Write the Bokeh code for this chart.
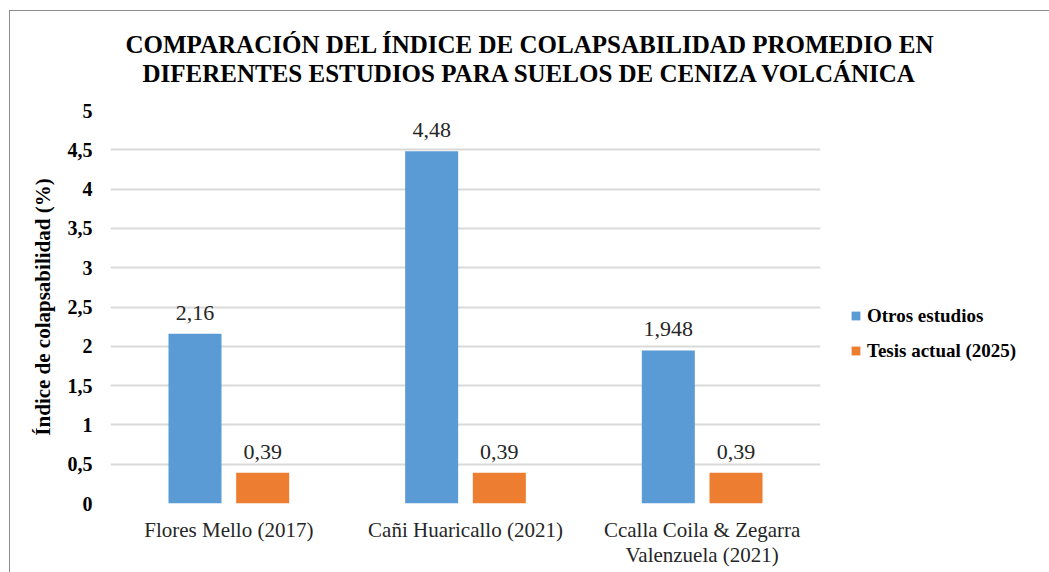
from bokeh.plotting import figure
from bokeh.models import (ColumnDataSource, FactorRange, Range1d, FixedTicker,
                          CustomJSTickFormatter, Title, Legend, LegendItem, InlineStyleSheet)
from bokeh.transform import dodge
from bokeh.core.properties import value
from bokeh.embed import file_html
from bokeh.resources import INLINE

# ---- data ----
categories = ["Flores Mello (2017)", "Cañi Huaricallo (2021)",
              "Ccalla Coila & Zegarra\nValenzuela (2021)"]
otros_estudios = [2.16, 4.48, 1.948]
tesis_actual = [0.39, 0.39, 0.39]
series_names = ["Otros estudios", "Tesis actual (2025)"]
y_ticks = [0, 0.5, 1, 1.5, 2, 2.5, 3, 3.5, 4, 4.5, 5]
title_lines = ["COMPARACIÓN DEL ÍNDICE DE COLAPSABILIDAD PROMEDIO EN",
               "DIFERENTES ESTUDIOS PARA SUELOS DE CENIZA VOLCÁNICA"]
y_label = "Índice de colapsabilidad (%)"


def fmt(v):
    return str(v).replace(".", ",")


source = ColumnDataSource(dict(
    cat=categories,
    otros=otros_estudios,
    tesis=tesis_actual,
    otros_lbl=[fmt(v) for v in otros_estudios],
    tesis_lbl=[fmt(v) for v in tesis_actual],
))

SERIF = "'Liberation Serif', 'Times New Roman', serif"
BLUE = "#5B9BD5"
ORANGE = "#ED7D31"

p = figure(x_range=FactorRange(*categories, range_padding=0),
           y_range=Range1d(0, 5),
           frame_width=710, frame_height=393,
           output_backend="svg", toolbar_location=None,
           min_border_left=100, min_border_right=229,
           min_border_top=99, min_border_bottom=69)
p.stylesheets = [InlineStyleSheet(css=":host { margin-left: 9px; margin-top: 10px; border-left: 1px solid #8c8c8c; border-top: 1px solid #8c8c8c; }")]
p.outline_line_color = None
p.background_fill_color = "white"
p.border_fill_color = "white"

# titles (stacked outward from the frame)
p.title = None
spacer = Title(text=" ", text_font=SERIF, text_font_size="20px", standoff=0)
t2 = Title(text=title_lines[1], align="left", offset=32,
           text_font=SERIF, text_font_size="25px", text_font_style="bold",
           text_color="black", standoff=0)
t1 = Title(text=title_lines[0], align="left", offset=15,
           text_font=SERIF, text_font_size="25px", text_font_style="bold",
           text_color="black", standoff=0)
p.add_layout(spacer, "above")
p.add_layout(t2, "above")
p.add_layout(t1, "above")

r1 = p.vbar(x=dodge("cat", -0.143, range=p.x_range), top="otros", width=0.224,
            source=source, fill_color=BLUE, line_color=None)
r2 = p.vbar(x=dodge("cat", 0.143, range=p.x_range), top="tesis", width=0.224,
            source=source, fill_color=ORANGE, line_color=None)

p.text(x=dodge("cat", -0.143, range=p.x_range), y="otros", text="otros_lbl",
       source=source, text_align="center", text_baseline="alphabetic",
       y_offset=-21, text_font=value(SERIF), text_font_size="22px",
       text_color="#262626")
p.text(x=dodge("cat", 0.143, range=p.x_range), y="tesis", text="tesis_lbl",
       source=source, text_align="center", text_baseline="alphabetic",
       y_offset=-21, text_font=value(SERIF), text_font_size="22px",
       text_color="#262626")

# grid
p.xgrid.grid_line_color = None
p.ygrid.grid_line_color = "#d9d9d9"
p.ygrid.grid_line_width = 2
p.ygrid.ticker = FixedTicker(ticks=y_ticks)

# y axis
p.yaxis.ticker = FixedTicker(ticks=y_ticks)
p.yaxis.formatter = CustomJSTickFormatter(code="return tick.toString().replace('.', ',')")
p.yaxis.axis_line_color = None
p.yaxis.major_tick_line_color = None
p.yaxis.minor_tick_line_color = None
p.yaxis.major_label_text_font = SERIF
p.yaxis.major_label_text_font_size = "20px"
p.yaxis.major_label_text_font_style = "bold"
p.yaxis.major_label_text_color = "black"
p.yaxis.major_label_standoff = 12
p.yaxis.axis_label = y_label
p.yaxis.axis_label_text_font = SERIF
p.yaxis.axis_label_text_font_size = "21px"
p.yaxis.axis_label_text_font_style = "bold"
p.yaxis.axis_label_text_color = "black"
p.yaxis.axis_label_standoff = 10

# x axis
p.xaxis.axis_line_color = None
p.xaxis.major_tick_line_color = None
p.xaxis.minor_tick_line_color = None
p.xaxis.major_label_text_font = SERIF
p.xaxis.major_label_text_font_size = "21px"
p.xaxis.major_label_text_color = "#262626"
p.xaxis.major_label_text_line_height = 1.05
p.xaxis.major_label_standoff = 8

# legend (right side panel)
legend = Legend(items=[LegendItem(label=series_names[0], renderers=[r1]),
                       LegendItem(label=series_names[1], renderers=[r2])],
                location="center_left", orientation="vertical",
                title=" ", title_text_font_size="20px", title_standoff=30,
                glyph_width=11, glyph_height=11, label_height=22,
                label_standoff=6, spacing=13, padding=0, margin=30,
                border_line_color=None, background_fill_alpha=0,
                label_text_font=SERIF, label_text_font_size="19px",
                label_text_font_style="bold", label_text_color="black")
p.add_layout(legend, "right")

open("out.html", "w").write(file_html(p, INLINE))
